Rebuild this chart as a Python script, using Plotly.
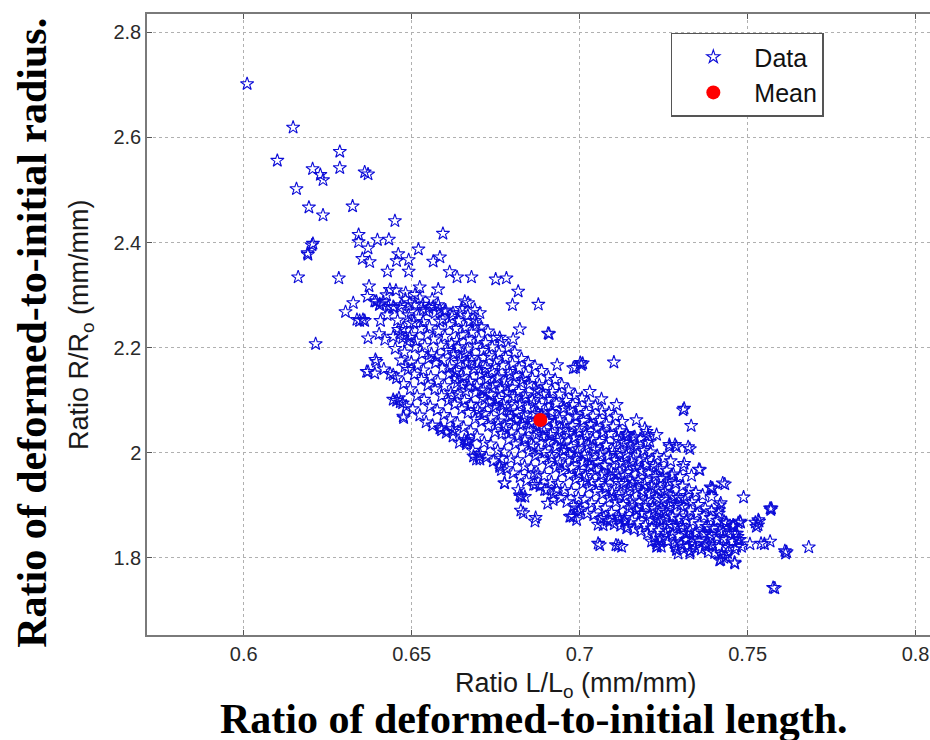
import plotly.graph_objects as go

# ---------------- data ----------------
upper_left_points = [
    (0.601, 2.702), (0.6147, 2.619), (0.610, 2.556), (0.6286, 2.573), (0.6286, 2.542),
    (0.6205, 2.540), (0.6228, 2.529), (0.6236, 2.519), (0.636, 2.534), (0.637, 2.530),
    (0.6157, 2.502), (0.6194, 2.467), (0.6236, 2.452), (0.6324, 2.469), (0.645, 2.441),
    (0.6593, 2.417), (0.6342, 2.415), (0.6342, 2.401), (0.6206, 2.398), (0.6203, 2.395),
    (0.6191, 2.377), (0.6190, 2.380), (0.6398, 2.405), (0.6432, 2.406), (0.637, 2.389),
    (0.652, 2.387), (0.646, 2.378), (0.6455, 2.365), (0.6491, 2.367), (0.6353, 2.369),
    (0.6375, 2.363), (0.6564, 2.364), (0.6584, 2.372), (0.6428, 2.345), (0.6491, 2.345),
    (0.6613, 2.344), (0.6635, 2.334), (0.6678, 2.334), (0.6162, 2.334), (0.6283, 2.332),
    (0.675, 2.330), (0.6782, 2.332), (0.6817, 2.307), (0.680, 2.281), (0.6877, 2.282),
    (0.6373, 2.317), (0.6435, 2.310), (0.6425, 2.300), (0.6482, 2.304), (0.6524, 2.315),
    (0.6579, 2.311), (0.6368, 2.297), (0.6326, 2.285), (0.6303, 2.268), (0.6345, 2.251),
    (0.636, 2.251), (0.6407, 2.251), (0.6395, 2.288), (0.6415, 2.287), (0.6404, 2.281),
    (0.6431, 2.278), (0.6447, 2.276), (0.6465, 2.276), (0.6494, 2.285), (0.6509, 2.281),
    (0.6524, 2.294), (0.6534, 2.272), (0.6544, 2.269), (0.6564, 2.278), (0.6579, 2.281),
    (0.6584, 2.272), (0.6598, 2.269), (0.6623, 2.266), (0.6643, 2.266), (0.6658, 2.288),
    (0.6668, 2.285), (0.6688, 2.272), (0.6703, 2.266), (0.6494, 2.246), (0.6584, 2.250),
    (0.6673, 2.250), (0.6693, 2.243), (0.6214, 2.207), (0.6337, 2.253), (0.6355, 2.253),
    (0.6390, 2.288), (0.6405, 2.283), (0.6445, 2.278), (0.6427, 2.262), (0.637, 2.218),
    (0.6403, 2.226), (0.642, 2.215), (0.6445, 2.221), (0.646, 2.234), (0.6473, 2.218),
    (0.6499, 2.224), (0.6395, 2.173), (0.637, 2.154), (0.639, 2.151), (0.6417, 2.159),
    (0.6445, 2.148), (0.648, 2.164), (0.6455, 2.099), (0.6473, 2.094), (0.6476, 2.066),
    (0.6392, 2.177), (0.6436, 2.150), (0.6366, 2.154), (0.6822, 2.235), (0.6909, 2.226),
    (0.6906, 2.227), (0.6762, 2.219), (0.6802, 2.216),
]

lower_right_points = [
    (0.7311, 2.084), (0.7332, 2.051), (0.7102, 2.172), (0.7002, 2.171), (0.6988, 2.162),
    (0.6933, 2.167), (0.7323, 2.011), (0.7267, 2.015), (0.7284, 2.015), (0.7311, 1.979),
    (0.7355, 1.968), (0.7426, 1.942), (0.739, 1.934), (0.7488, 1.915), (0.7567, 1.894),
    (0.7532, 1.872), (0.7523, 1.867), (0.7479, 1.867), (0.747, 1.840), (0.7567, 1.831),
    (0.754, 1.827), (0.7611, 1.813), (0.7682, 1.820), (0.7576, 1.743), (0.7461, 1.791),
    (0.7429, 1.800), (0.7417, 1.795), (0.744, 1.809), (0.7055, 1.827), (0.7108, 1.824),
    (0.7284, 1.822), (0.7329, 1.813), (0.7373, 1.822), (0.7214, 1.831), (0.7231, 1.822),
    (0.6869, 1.876), (0.6825, 1.890), (0.6776, 1.942), (0.6825, 1.917), (0.6864, 1.961),
    (0.6869, 1.939), (0.6684, 1.993), (0.6701, 1.993), (0.6657, 2.024), (0.6666, 2.020),
    (0.6587, 2.047), (0.6622, 2.045), (0.6475, 2.069), (0.6445, 2.101), (0.6466, 2.096),
    (0.6931, 1.930), (0.6905, 1.903), (0.6975, 1.879), (0.6993, 1.894), (0.7117, 1.876),
    (0.7134, 1.869), (0.717, 1.890), (0.7214, 1.872), (0.7249, 1.890), (0.7055, 1.863),
    (0.7072, 1.876), (0.7328, 2.007), (0.7358, 1.967), (0.7333, 1.956), (0.7432, 1.940),
    (0.7396, 1.932), (0.7393, 1.916), (0.7569, 1.891), (0.7534, 1.869), (0.7526, 1.859),
    (0.742, 1.904), (0.7415, 1.891), (0.7435, 1.866), (0.7507, 1.826), (0.755, 1.826),
    (0.7613, 1.808), (0.742, 1.796), (0.7435, 1.802), (0.7462, 1.789), (0.7472, 1.834),
    (0.7482, 1.821), (0.7467, 1.821), (0.7457, 1.859), (0.7472, 1.866), (0.7462, 1.846),
    (0.7427, 1.850), (0.7385, 1.824), (0.7393, 1.840), (0.7373, 1.846), (0.7383, 1.859),
    (0.7328, 1.808), (0.7338, 1.827), (0.7318, 1.834), (0.7343, 1.846), (0.729, 1.816),
    (0.7293, 1.808), (0.7229, 1.821), (0.7243, 1.821), (0.7239, 1.830), (0.7125, 1.821),
    (0.7169, 2.062), (0.7199, 2.040), (0.7209, 2.021), (0.7164, 2.030), (0.7139, 2.034),
    (0.7030, 2.116), (0.7065, 2.102), (0.7110, 2.091), (0.7194, 2.046), (0.7204, 2.031),
    (0.7229, 2.034), (0.7144, 2.031), (0.7159, 2.008), (0.7308, 1.973), (0.6777, 1.942),
    (0.6832, 1.885), (0.6867, 1.869), (0.6822, 1.919), (0.6837, 1.916), (0.6767, 1.989),
    (0.6762, 1.973), (0.6896, 1.929), (0.6921, 1.910), (0.6971, 1.878), (0.6991, 1.872),
    (0.707, 1.862), (0.709, 1.869), (0.712, 1.872), (0.714, 1.856), (0.7239, 1.872),
    (0.7278, 1.859), (0.7318, 1.846), (0.6589, 2.043), (0.6623, 2.040), (0.6663, 2.021),
    (0.6668, 2.024), (0.6693, 1.987), (0.6703, 1.987), (0.6767, 1.967), (0.6817, 1.929),
    (0.6827, 1.916), (0.6981, 1.878), (0.6996, 1.888), (0.706, 1.824), (0.7115, 1.823),
    (0.7229, 1.827), (0.7288, 1.815), (0.7328, 1.812), (0.7571, 1.894), (0.7531, 1.862),
    (0.7477, 1.834), (0.7616, 1.811), (0.7581, 1.742), (0.7393, 1.932), (0.7417, 1.900),
    (0.7422, 1.859), (0.7457, 1.862), (0.7477, 1.869), (0.7308, 2.081), (0.7268, 2.011),
    (0.7288, 2.011), (0.7005, 2.167), (0.6981, 2.161), (0.7009, 2.170),
]

core_points = [
    (0.6462, 2.104), (0.6455, 2.142), (0.6468, 2.176), (0.6451, 2.198), (0.6466, 2.226), (0.6458, 2.252), (0.6470, 2.281), (0.6453, 2.309),
    (0.6484, 2.088), (0.6476, 2.131), (0.6489, 2.158), (0.6479, 2.191), (0.6487, 2.212), (0.6474, 2.236), (0.6490, 2.262), (0.6481, 2.292),
    (0.6503, 2.083), (0.6496, 2.121), (0.6508, 2.149), (0.6499, 2.172), (0.6511, 2.201), (0.6494, 2.219), (0.6506, 2.247), (0.6498, 2.268), (0.6510, 2.301),
    (0.6524, 2.071), (0.6516, 2.108), (0.6529, 2.139), (0.6518, 2.166), (0.6531, 2.188), (0.6514, 2.212), (0.6527, 2.236), (0.6521, 2.258), (0.6533, 2.282),
    (0.6543, 2.058), (0.6537, 2.101), (0.6548, 2.128), (0.6535, 2.157), (0.6550, 2.179), (0.6539, 2.203), (0.6546, 2.224), (0.6534, 2.249), (0.6551, 2.276),
    (0.6562, 2.052), (0.6555, 2.088), (0.6569, 2.121), (0.6557, 2.144), (0.6571, 2.171), (0.6559, 2.188), (0.6566, 2.216), (0.6553, 2.239), (0.6570, 2.266), (0.6561, 2.292),
    (0.6584, 2.046), (0.6576, 2.081), (0.6589, 2.108), (0.6578, 2.136), (0.6591, 2.161), (0.6574, 2.182), (0.6587, 2.204), (0.6580, 2.231), (0.6592, 2.254),
    (0.6603, 2.038), (0.6596, 2.072), (0.6609, 2.099), (0.6598, 2.127), (0.6611, 2.149), (0.6594, 2.176), (0.6607, 2.194), (0.6599, 2.221), (0.6612, 2.243), (0.6601, 2.271),
    (0.6623, 2.031), (0.6615, 2.064), (0.6628, 2.092), (0.6617, 2.114), (0.6630, 2.141), (0.6613, 2.163), (0.6626, 2.186), (0.6619, 2.208), (0.6631, 2.236), (0.6620, 2.259),
    (0.6642, 2.019), (0.6636, 2.056), (0.6649, 2.083), (0.6637, 2.111), (0.6650, 2.129), (0.6633, 2.156), (0.6646, 2.178), (0.6639, 2.201), (0.6651, 2.224), (0.6640, 2.251), (0.6648, 2.274),
    (0.6663, 2.016), (0.6655, 2.048), (0.6668, 2.076), (0.6657, 2.099), (0.6670, 2.126), (0.6654, 2.144), (0.6666, 2.171), (0.6659, 2.189), (0.6671, 2.216), (0.6660, 2.238), (0.6667, 2.261),
    (0.6682, 2.004), (0.6676, 2.041), (0.6689, 2.064), (0.6677, 2.091), (0.6690, 2.114), (0.6673, 2.136), (0.6686, 2.159), (0.6679, 2.181), (0.6691, 2.204), (0.6680, 2.229), (0.6688, 2.251),
    (0.6703, 1.998), (0.6695, 2.031), (0.6708, 2.059), (0.6697, 2.081), (0.6710, 2.104), (0.6694, 2.126), (0.6706, 2.149), (0.6699, 2.171), (0.6711, 2.194), (0.6700, 2.216), (0.6707, 2.239),
    (0.6722, 1.991), (0.6716, 2.019), (0.6729, 2.051), (0.6717, 2.074), (0.6730, 2.096), (0.6713, 2.119), (0.6726, 2.141), (0.6719, 2.161), (0.6731, 2.184), (0.6720, 2.209), (0.6727, 2.231),
    (0.6743, 1.984), (0.6735, 2.016), (0.6748, 2.039), (0.6737, 2.066), (0.6750, 2.089), (0.6734, 2.111), (0.6746, 2.129), (0.6739, 2.156), (0.6751, 2.174), (0.6740, 2.201), (0.6747, 2.219),
    (0.6762, 1.976), (0.6756, 2.004), (0.6769, 2.036), (0.6757, 2.054), (0.6770, 2.081), (0.6753, 2.099), (0.6766, 2.121), (0.6759, 2.144), (0.6771, 2.166), (0.6760, 2.189), (0.6767, 2.211),
    (0.6783, 1.969), (0.6775, 2.001), (0.6788, 2.024), (0.6777, 2.051), (0.6790, 2.069), (0.6774, 2.091), (0.6786, 2.114), (0.6779, 2.136), (0.6791, 2.154), (0.6780, 2.181), (0.6787, 2.199),
    (0.6802, 1.961), (0.6796, 1.989), (0.6809, 2.016), (0.6797, 2.039), (0.6810, 2.061), (0.6793, 2.079), (0.6806, 2.106), (0.6799, 2.124), (0.6811, 2.146), (0.6800, 2.169), (0.6807, 2.191),
    (0.6823, 1.954), (0.6815, 1.986), (0.6828, 2.009), (0.6817, 2.031), (0.6830, 2.054), (0.6814, 2.076), (0.6826, 2.094), (0.6819, 2.116), (0.6831, 2.139), (0.6820, 2.161), (0.6827, 2.179),
    (0.6842, 1.946), (0.6836, 1.974), (0.6849, 2.001), (0.6837, 2.024), (0.6850, 2.046), (0.6833, 2.064), (0.6846, 2.086), (0.6839, 2.104), (0.6851, 2.131), (0.6840, 2.149), (0.6847, 2.171),
    (0.6863, 1.939), (0.6855, 1.971), (0.6868, 1.994), (0.6857, 2.016), (0.6870, 2.034), (0.6854, 2.056), (0.6866, 2.074), (0.6859, 2.101), (0.6871, 2.119), (0.6860, 2.141), (0.6867, 2.164),
    (0.6882, 1.936), (0.6876, 1.959), (0.6889, 1.986), (0.6877, 2.004), (0.6890, 2.031), (0.6873, 2.049), (0.6886, 2.071), (0.6879, 2.089), (0.6891, 2.111), (0.6880, 2.129), (0.6887, 2.156),
    (0.6903, 1.929), (0.6895, 1.956), (0.6908, 1.979), (0.6897, 2.001), (0.6910, 2.019), (0.6894, 2.041), (0.6906, 2.061), (0.6899, 2.079), (0.6911, 2.101), (0.6900, 2.126), (0.6907, 2.144),
    (0.6922, 1.921), (0.6916, 1.944), (0.6929, 1.971), (0.6917, 1.989), (0.6930, 2.011), (0.6913, 2.034), (0.6926, 2.054), (0.6919, 2.076), (0.6931, 2.094), (0.6920, 2.116), (0.6927, 2.139),
    (0.6943, 1.914), (0.6935, 1.941), (0.6948, 1.964), (0.6937, 1.986), (0.6950, 2.004), (0.6934, 2.026), (0.6946, 2.044), (0.6939, 2.066), (0.6951, 2.084), (0.6940, 2.111), (0.6947, 2.129),
    (0.6962, 1.906), (0.6956, 1.929), (0.6969, 1.956), (0.6957, 1.974), (0.6970, 1.996), (0.6953, 2.014), (0.6966, 2.036), (0.6959, 2.054), (0.6971, 2.081), (0.6960, 2.099), (0.6967, 2.119),
    (0.6983, 1.899), (0.6975, 1.926), (0.6988, 1.949), (0.6977, 1.971), (0.6990, 1.989), (0.6974, 2.011), (0.6986, 2.029), (0.6979, 2.051), (0.6991, 2.069), (0.6980, 2.091), (0.6987, 2.109),
    (0.7002, 1.891), (0.6996, 1.914), (0.7009, 1.941), (0.6997, 1.959), (0.7010, 1.981), (0.6993, 1.999), (0.7006, 2.021), (0.6999, 2.039), (0.7011, 2.061), (0.7000, 2.084), (0.7007, 2.104),
    (0.7023, 1.884), (0.7015, 1.911), (0.7028, 1.934), (0.7017, 1.956), (0.7030, 1.974), (0.7014, 1.996), (0.7026, 2.014), (0.7019, 2.036), (0.7031, 2.054), (0.7020, 2.076), (0.7027, 2.094),
    (0.7042, 1.881), (0.7036, 1.904), (0.7049, 1.926), (0.7037, 1.944), (0.7050, 1.966), (0.7033, 1.984), (0.7046, 2.006), (0.7039, 2.024), (0.7051, 2.046), (0.7040, 2.069), (0.7047, 2.089),
    (0.7063, 1.874), (0.7055, 1.899), (0.7068, 1.921), (0.7057, 1.941), (0.7070, 1.959), (0.7054, 1.981), (0.7066, 1.999), (0.7059, 2.021), (0.7071, 2.039), (0.7060, 2.061), (0.7067, 2.079),
    (0.7082, 1.871), (0.7076, 1.894), (0.7089, 1.914), (0.7077, 1.936), (0.7090, 1.954), (0.7073, 1.976), (0.7086, 1.994), (0.7079, 2.014), (0.7091, 2.036), (0.7080, 2.054), (0.7087, 2.076),
    (0.7103, 1.864), (0.7095, 1.886), (0.7108, 1.906), (0.7097, 1.924), (0.7110, 1.946), (0.7094, 1.964), (0.7106, 1.986), (0.7099, 2.004), (0.7111, 2.026), (0.7100, 2.049), (0.7107, 2.069),
    (0.7122, 1.861), (0.7116, 1.879), (0.7129, 1.901), (0.7117, 1.919), (0.7130, 1.941), (0.7113, 1.959), (0.7126, 1.981), (0.7119, 1.999), (0.7131, 2.019), (0.7120, 2.041), (0.7127, 2.059),
    (0.7143, 1.859), (0.7135, 1.876), (0.7148, 1.894), (0.7137, 1.916), (0.7150, 1.934), (0.7134, 1.956), (0.7146, 1.974), (0.7139, 1.996), (0.7151, 2.014), (0.7140, 2.036),
    (0.7162, 1.854), (0.7156, 1.871), (0.7169, 1.891), (0.7157, 1.909), (0.7170, 1.931), (0.7153, 1.949), (0.7166, 1.971), (0.7159, 1.989), (0.7171, 2.011), (0.7160, 2.029),
    (0.7183, 1.851), (0.7175, 1.866), (0.7188, 1.884), (0.7177, 1.906), (0.7190, 1.924), (0.7174, 1.946), (0.7186, 1.964), (0.7179, 1.986), (0.7191, 2.004), (0.7180, 2.026),
    (0.7202, 1.846), (0.7196, 1.861), (0.7209, 1.881), (0.7197, 1.899), (0.7210, 1.921), (0.7193, 1.939), (0.7206, 1.961), (0.7199, 1.979), (0.7211, 2.001), (0.7200, 2.019),
    (0.7223, 1.841), (0.7215, 1.856), (0.7228, 1.874), (0.7217, 1.896), (0.7230, 1.914), (0.7214, 1.936), (0.7226, 1.954), (0.7219, 1.976), (0.7231, 1.994),
    (0.7242, 1.836), (0.7236, 1.851), (0.7249, 1.871), (0.7237, 1.889), (0.7250, 1.911), (0.7233, 1.929), (0.7246, 1.951), (0.7239, 1.969), (0.7251, 1.989),
    (0.7263, 1.831), (0.7255, 1.846), (0.7268, 1.864), (0.7257, 1.886), (0.7270, 1.904), (0.7254, 1.926), (0.7266, 1.944), (0.7259, 1.966), (0.7271, 1.984),
    (0.7282, 1.829), (0.7276, 1.844), (0.7289, 1.861), (0.7277, 1.879), (0.7290, 1.901), (0.7273, 1.919), (0.7286, 1.941), (0.7279, 1.959),
    (0.7303, 1.826), (0.7295, 1.841), (0.7308, 1.856), (0.7297, 1.874), (0.7310, 1.896), (0.7294, 1.914), (0.7306, 1.936), (0.7299, 1.954),
    (0.7322, 1.821), (0.7316, 1.834), (0.7329, 1.851), (0.7317, 1.871), (0.7330, 1.889), (0.7313, 1.911), (0.7326, 1.929),
    (0.7343, 1.819), (0.7335, 1.836), (0.7348, 1.849), (0.7337, 1.869), (0.7350, 1.884), (0.7334, 1.906), (0.7346, 1.924),
    (0.7362, 1.816), (0.7356, 1.831), (0.7369, 1.846), (0.7357, 1.864), (0.7370, 1.879), (0.7353, 1.901), (0.7366, 1.919),
    (0.7383, 1.811), (0.7375, 1.826), (0.7388, 1.844), (0.7377, 1.859), (0.7390, 1.876), (0.7374, 1.894),
    (0.7402, 1.809), (0.7396, 1.824), (0.7409, 1.839), (0.7397, 1.856), (0.7410, 1.871), (0.7393, 1.889),
    (0.7423, 1.806), (0.7415, 1.821), (0.7428, 1.836), (0.7417, 1.851), (0.7430, 1.869), (0.7414, 1.884),
    (0.7442, 1.819), (0.7436, 1.834), (0.7449, 1.851), (0.7437, 1.866),
    (0.7463, 1.816), (0.7455, 1.831), (0.7468, 1.846), (0.7457, 1.861),
]

# densest centre of the cloud (extra overlapping stars)
dense_centre_points = [
    (0.6621, 2.108), (0.6636, 2.133), (0.6627, 2.151), (0.6640, 2.171), (0.6624, 2.190), (0.6634, 2.213),
    (0.6676, 2.092), (0.6661, 2.117), (0.6674, 2.135), (0.6664, 2.155), (0.6679, 2.174), (0.6666, 2.197),
    (0.6703, 2.076), (0.6718, 2.101), (0.6706, 2.119), (0.6720, 2.139), (0.6701, 2.158), (0.6714, 2.181),
    (0.6758, 2.060), (0.6744, 2.085), (0.6760, 2.103), (0.6741, 2.123), (0.6755, 2.142), (0.6746, 2.165),
    (0.6781, 2.044), (0.6797, 2.069), (0.6784, 2.087), (0.6799, 2.107), (0.6782, 2.126), (0.6794, 2.149),
    (0.6838, 2.028), (0.6823, 2.053), (0.6836, 2.071), (0.6821, 2.091), (0.6839, 2.110), (0.6826, 2.133),
    (0.6863, 2.012), (0.6878, 2.037), (0.6861, 2.055), (0.6876, 2.075), (0.6864, 2.094), (0.6879, 2.117),
    (0.6916, 1.996), (0.6902, 2.021), (0.6918, 2.039), (0.6903, 2.059), (0.6915, 2.078), (0.6905, 2.101),
    (0.6942, 1.980), (0.6957, 2.005), (0.6944, 2.023), (0.6959, 2.043), (0.6941, 2.062), (0.6954, 2.085),
    (0.6998, 1.964), (0.6983, 1.989), (0.6996, 2.007), (0.6982, 2.027), (0.6999, 2.046), (0.6986, 2.069),
    (0.7021, 1.948), (0.7037, 1.973), (0.7024, 1.991), (0.7039, 2.011), (0.7022, 2.030), (0.7034, 2.053),
    (0.7078, 1.932), (0.7063, 1.957), (0.7076, 1.975), (0.7061, 1.995), (0.7079, 2.014), (0.7066, 2.037),
    (0.7103, 1.916), (0.7118, 1.941), (0.7101, 1.959), (0.7116, 1.979), (0.7104, 1.998), (0.7119, 2.021),
    (0.7156, 1.900), (0.7142, 1.925), (0.7158, 1.943), (0.7143, 1.963), (0.7155, 1.982), (0.7145, 2.005),
    (0.7182, 1.884), (0.7197, 1.909), (0.7184, 1.927), (0.7199, 1.947), (0.7181, 1.966), (0.7194, 1.989),
    (0.7238, 1.868), (0.7223, 1.893), (0.7236, 1.911), (0.7222, 1.931), (0.7239, 1.950), (0.7226, 1.973),
    (0.7261, 1.852), (0.7277, 1.877), (0.7264, 1.895), (0.7279, 1.915), (0.7262, 1.934), (0.7274, 1.957),
    (0.7318, 1.846), (0.7303, 1.861), (0.7316, 1.879), (0.7301, 1.899), (0.7319, 1.918),
]

mean_L = [0.6883]
mean_R = [2.062]

x_tick_vals = [0.6, 0.65, 0.7, 0.75, 0.8]
x_tick_text = ["0.6", "0.65", "0.7", "0.75", "0.8"]
y_tick_vals = [1.8, 2.0, 2.2, 2.4, 2.6, 2.8]
y_tick_text = ["1.8", "2", "2.2", "2.4", "2.6", "2.8"]

x_range = [0.5712, 0.8043]
y_range = [1.6528, 2.835]

# ---------------- figure ----------------
all_points = upper_left_points + core_points + dense_centre_points + lower_right_points
data_L = [p[0] for p in all_points]
data_R = [p[1] for p in all_points]

fig = go.Figure()
fig.add_trace(go.Scatter(
    x=data_L, y=data_R, mode="markers", name="Data", legendgroup="a",
    marker=dict(symbol="star-open", size=10, color="#0c0cd8", line=dict(width=1.1, color="#0c0cd8")),
))
fig.add_trace(go.Scatter(
    x=mean_L, y=mean_R, mode="markers", name="Mean", legendgroup="b",
    marker=dict(symbol="circle", size=14, color="#ff0000", line=dict(width=0)),
))

axis_font = dict(family="Liberation Sans, Arial, sans-serif", size=20, color="#2a2a2a")
common_axis = dict(
    showline=True, linecolor="#7a7a7a", linewidth=1.5,
    ticks="inside", ticklen=5, tickcolor="#555555", tickwidth=1,
    showgrid=True, gridcolor="#b0b0b0", gridwidth=1, griddash="dot",
    zeroline=False, tickfont=axis_font,
)
fig.update_xaxes(range=x_range, tickvals=x_tick_vals, ticktext=x_tick_text,
                 mirror="ticks", **common_axis)
fig.update_yaxes(range=y_range, tickvals=y_tick_vals, ticktext=y_tick_text,
                 mirror=False, **common_axis)

annots = [
    dict(text="Ratio L/L<sub>o</sub> (mm/mm)", xref="paper", yref="paper",
         x=0.548, y=-0.050, xanchor="center", yanchor="top", showarrow=False,
         font=dict(family="Liberation Sans, Arial, sans-serif", size=27, color="#1a1a1a")),
    dict(text="Ratio R/R<sub>o</sub> (mm/mm)", xref="paper", yref="paper",
         x=-0.085, y=0.5, xanchor="center", yanchor="middle", textangle=-90, showarrow=False,
         font=dict(family="Liberation Serif, Times New Roman, serif", size=1, color="rgba(0,0,0,0)")) if False else
    dict(text="Ratio R/R<sub>o</sub> (mm/mm)", xref="paper", yref="paper",
         x=-0.085, y=0.5, xanchor="center", yanchor="middle", textangle=-90, showarrow=False,
         font=dict(family="Liberation Sans, Arial, sans-serif", size=27, color="#1a1a1a")),
    dict(text="<b>Ratio of deformed-to-initial length.</b>", xref="paper", yref="paper",
         x=0.494, y=-0.136, xanchor="center", yanchor="middle", showarrow=False,
         font=dict(family="Liberation Serif, Times New Roman, serif", size=42, color="#000000")),
    dict(text="<b>Ratio of deformed-to-initial radius.</b>", xref="paper", yref="paper",
         x=-0.147, y=0.4866, xanchor="center", yanchor="middle", textangle=-90, showarrow=False,
         font=dict(family="Liberation Serif, Times New Roman, serif", size=42, color="#000000")),
]

fig.update_layout(
    width=930, height=740,
    margin=dict(l=147, r=0, t=14, b=105),
    paper_bgcolor="white", plot_bgcolor="white",
    showlegend=True,
    legend=dict(
        x=0.669, y=0.970, xanchor="left", yanchor="top",
        bgcolor="white", bordercolor="#555555", borderwidth=1.5,
        font=dict(family="Liberation Sans, Arial, sans-serif", size=25, color="#111111"),
        itemwidth=72, tracegroupgap=0,
    ),
    annotations=annots,
)

fig.write_html("out.html")
